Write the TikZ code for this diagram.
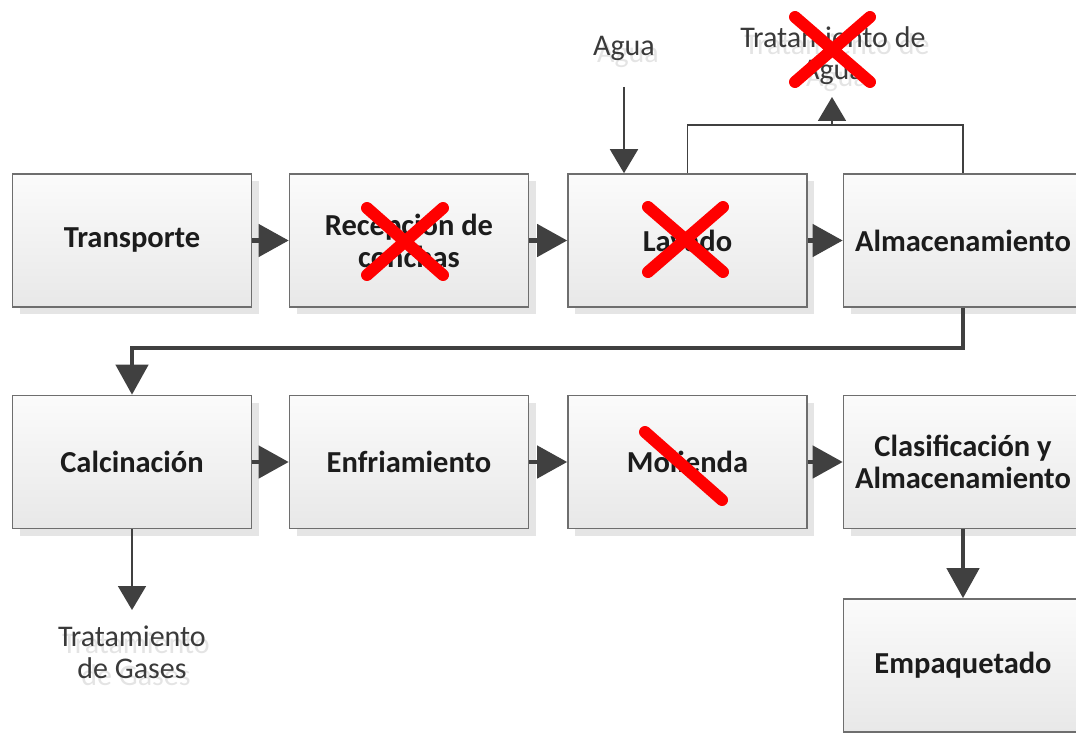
\documentclass[tikz,border=0pt]{standalone}
\usepackage{fontspec}
\setmainfont{Carlito}
\usetikzlibrary{arrows.meta,shadows}

\definecolor{boxline}{HTML}{6E6E6E}
\definecolor{boxtop}{HTML}{FBFBFB}
\definecolor{boxbot}{HTML}{E8E8E8}
\definecolor{flow}{HTML}{404040}
\definecolor{boxtext}{HTML}{1C1C1C}
\definecolor{labtext}{HTML}{3A3A3A}
\definecolor{ghost}{HTML}{E4E4E4}

\tikzset{
  proc/.style={draw=boxline, line width=1.6pt, top color=boxtop, bottom color=boxbot,
    minimum width=239pt, minimum height=133pt, inner sep=0pt, align=center,
    text=boxtext, font=\bfseries\fontsize{30.5}{32}\selectfont,
    drop shadow={shadow xshift=7pt, shadow yshift=-7pt, fill=black!10, opacity=1}},
  sidelabel/.style={align=center, inner sep=0pt, text=labtext,
    font=\fontsize{30}{32}\selectfont},
  ghostlabel/.style={sidelabel, text=ghost},
  mainflow/.style={draw=flow, line width=4.5pt,
    -{Triangle[length=30pt,width=32pt]}},
  sideflow/.style={draw=flow, line width=1.8pt,
    -{Triangle[length=24pt,width=28pt]}},
  sideline/.style={draw=flow, line width=1.8pt},
  cancel/.style={draw=red, line width=12pt, line cap=round}
}

\begin{document}
\begin{tikzpicture}[x=1pt, y=-1pt]
  \useasboundingbox (0,0) rectangle (1076,733);
  \clip (0,0) rectangle (1076,733);

  % process boxes, first row
  \node[proc] (trans) at (132,240.5)   {Transporte};
  \node[proc] (recep) at (409,240.5)   {Recepción de\\conchas};
  \node[proc] (lav)   at (687.5,240.5) {Lavado};
  \node[proc] (alm)   at (963,240.5)   {Almacenamiento};

  % process boxes, second row
  \node[proc] (calc)  at (132,462)     {Calcinación};
  \node[proc] (enf)   at (409,462)     {Enfriamiento};
  \node[proc] (mol)   at (687.5,462)   {Molienda};
  \node[proc] (clas)  at (963,462)     {Clasificación y\\Almacenamiento};
  \node[proc] (emp)   at (963,665.5)   {Empaquetado};

  % main flow
  \draw[mainflow] (trans.east) -- (recep.west);
  \draw[mainflow] (recep.east) -- (lav.west);
  \draw[mainflow] (lav.east) -- (alm.west);
  \draw[mainflow] (alm.south) -- ++(0,40) -| (calc.north);
  \draw[mainflow] (calc.east) -- (enf.west);
  \draw[mainflow] (enf.east) -- (mol.west);
  \draw[mainflow] (mol.east) -- (clas.west);
  \draw[mainflow] (clas.south) -- (emp.north);

  % water inlet
  \node[ghostlabel] (aguaG) at (628,55) {Agua};
  \node[sidelabel]  (agua)  at (624,48) {Agua};
  \coordinate (aguaTop) at (624,87);
  \draw[sideflow] (aguaTop) -- (aguaTop |- lav.north);

  % waste water outlet
  \node[ghostlabel] (taguaG) at (837,63) {Tratamiento de\\Agua};
  \node[sidelabel]  (tagua)  at (833,56) {Tratamiento de\\Agua};
  \coordinate (wBase) at (832,125);
  \coordinate (wTip)  at (832,97);
  \draw[sideline] (lav.north) -- (lav.north |- wBase) -| (alm.north);
  \draw[sideflow] (wBase) -- (wTip);

  % gas outlet
  \node[ghostlabel] (gasesG) at (136,659) {Tratamiento\\de Gases};
  \node[sidelabel]  (gases)  at (132,652) {Tratamiento\\de Gases};
  \coordinate (gasTip) at (132,610);
  \draw[sideflow] (calc.south) -- (calc.south |- gasTip);

  % crossed-out steps
  \draw[cancel] (367,208) -- (443,275) (443,208) -- (367,275);
  \draw[cancel] (648,207) -- (723,272) (723,207) -- (648,272);
  \draw[cancel] (795,17) -- (870,82) (870,17) -- (795,82);
  \draw[cancel] (645,432) -- (722,500);
\end{tikzpicture}
\end{document}
